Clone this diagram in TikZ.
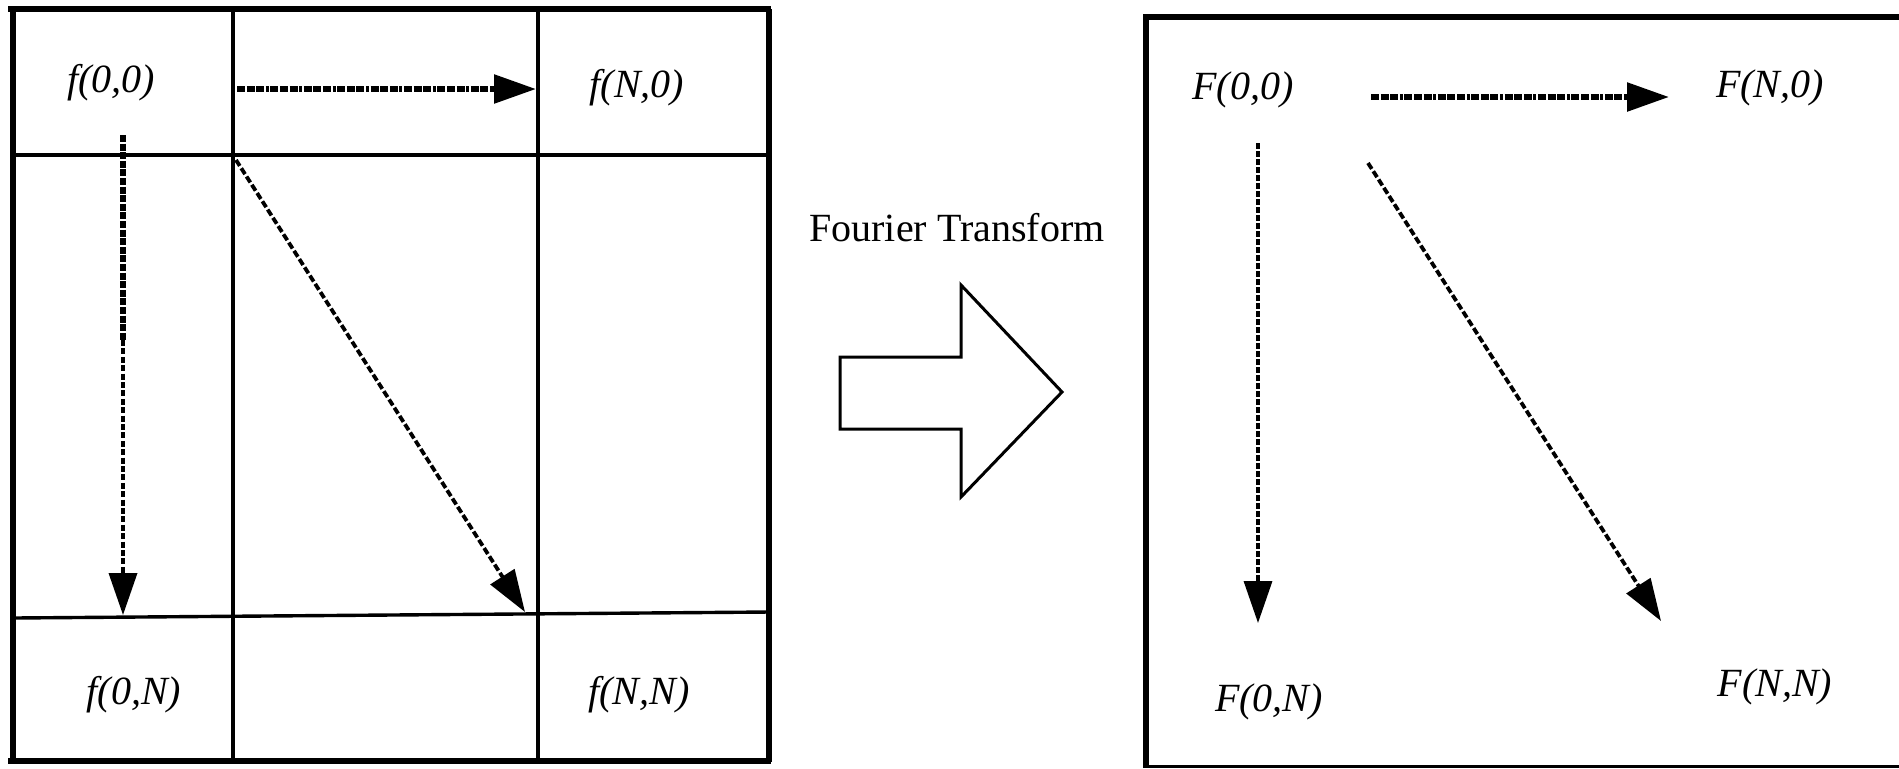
\documentclass[tikz,border=0pt]{standalone}
\usepackage{fontspec}
\setmainfont{Liberation Serif}
\usetikzlibrary{arrows.meta}
\begin{document}
\begin{tikzpicture}[x=0.5pt,y=-0.5pt,
  outer/.style={line width=2.8pt},
  gridline/.style={line width=2.3pt},
  lbl/.style={font=\fontsize{20}{24}\selectfont\itshape, inner sep=0pt},
  caption/.style={font=\fontsize{20}{24}\selectfont, inner sep=0pt},
  tip/.style={-{Triangle[length=21pt,width=14pt]}},
  flowthick/.style={tip, line width=2.8pt,
    dash pattern=on 4pt off 0.8pt on 4pt off 0.8pt on 4pt off 0.8pt on 1.5pt off 0.8pt},
  heavyrun/.style={line width=3pt, dash pattern=on 3.5pt off 0.8pt},
  lightrun/.style={tip, line width=1.8pt, dash pattern=on 3pt off 1.2pt},
  flowmid/.style={tip, line width=1.9pt, dash pattern=on 3.5pt off 1.4pt},
  flowthin/.style={tip, line width=1.7pt, dash pattern=on 3pt off 1pt},
  blockarrow/.style={line width=1.5pt, line join=miter}
]
\useasboundingbox (0,0) rectangle (1899,768);
\clip (0,0) rectangle (1899,768);

% ---- spatial grid f(x,y) ----
\draw[outer] (8,9) -- (771,9);
\draw[outer] (8,761) -- (771,761);
\draw[outer] (13,9) -- (13,762);
\draw[outer] (769,9) -- (769,762);
\draw[gridline] (233,9) -- (233,761);
\draw[gridline] (538,9) -- (538,761);
\draw[gridline] (13,155) -- (769,155);
\draw[line width=1.7pt] (13,618) -- (769,612);

\node[lbl] (f00) at (111,83) {f(0,0)};
\node[lbl] (fN0) at (637,88) {f(N,0)};
\node[lbl] (f0N) at (134,695) {f(0,N)};
\node[lbl] (fNN) at (639,695) {f(N,N)};

\coordinate (ha) at (237,89);  \coordinate (hb) at (536,89);
\coordinate (va) at (123,135); \coordinate (vm) at (123,340);
\coordinate (vb) at (123,615);
\coordinate (da) at (236,160); \coordinate (db) at (525,612);
\draw[flowthick] (ha) -- (hb);
\draw[heavyrun] (va) -- (vm);
\draw[lightrun] (vm) -- (vb);
\draw[flowmid] (da) -- (db);

% ---- transform arrow ----
\node[caption] (ft) at (957,228) {Fourier Transform};
\draw[blockarrow] (840,357) -- (961,357) -- (961,285) -- (1062,392)
  -- (961,497) -- (961,429) -- (840,429) -- cycle;

% ---- frequency plane F(u,v) ----
\draw[outer] (1143,17) -- (1899,17);
\draw[outer] (1146,17) -- (1146,768);
\draw[line width=1.5pt] (1146,766) -- (1899,766);

\node[lbl] (F00) at (1243,90) {F(0,0)};
\node[lbl] (FN0) at (1770,88) {F(N,0)};
\node[lbl] (F0N) at (1269,702) {F(0,N)};
\node[lbl] (FNN) at (1775,687) {F(N,N)};

\coordinate (Ha) at (1371,97);  \coordinate (Hb) at (1669,97);
\coordinate (Va) at (1258,143); \coordinate (Vb) at (1258,623);
\coordinate (Da) at (1368,163); \coordinate (Db) at (1661,621);
\draw[flowthick] (Ha) -- (Hb);
\draw[flowthin] (Va) -- (Vb);
\draw[flowmid] (Da) -- (Db);
\end{tikzpicture}
\end{document}
